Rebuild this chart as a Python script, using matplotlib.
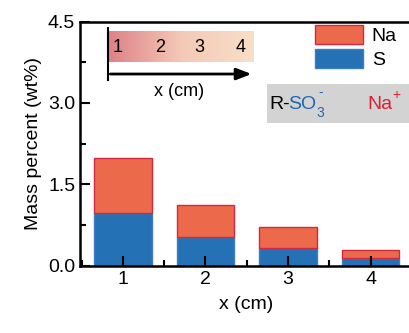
"""
Masa de Na y S por posicion x (barras apiladas) con inserto de gradiente.
"""

import matplotlib
matplotlib.use("Agg")
import matplotlib.pyplot as plt
import numpy as np
from matplotlib.patches import Rectangle, Patch
from matplotlib.ticker import MultipleLocator

plt.rcParams["font.family"] = ["Liberation Sans", "DejaVu Sans"]

positions = [1, 2, 3, 4]
s_values = [0.98, 0.53, 0.33, 0.14]
na_values = [1.00, 0.59, 0.38, 0.15]
inset_labels = ["1", "2", "3", "4"]

NA_FACE = "#EC6A4B"
NA_EDGE = "#D3283F"
S_FACE = "#2471B5"
S_EDGE = "#3E7EC0"
SO3_COLOR = "#2167B0"
NA_ION_COLOR = "#E0202F"

fig = plt.figure(figsize=(4.09, 3.33), dpi=100)
ax = fig.add_axes([0.1956, 0.202, 0.8114, 0.7334])
ax.set_axisbelow(False)

ax.bar(positions, s_values, width=0.7, color=S_FACE, edgecolor=S_EDGE, linewidth=1.0, zorder=1)
ax.bar(positions, na_values, width=0.7, bottom=s_values, color=NA_FACE, edgecolor=NA_EDGE,
       linewidth=1.0, zorder=1)

ax.set_xlim(0.48, 4.5)
ax.set_ylim(0, 4.5)
ax.set_xticks(positions)
ax.set_yticks([0, 1.5, 3.0, 4.5])
ax.set_yticklabels(["0.0", "1.5", "3.0", "4.5"])
ax.xaxis.set_minor_locator(MultipleLocator(0.5))
ax.yaxis.set_minor_locator(MultipleLocator(0.75))
ax.tick_params(which="both", direction="in", top=False, right=False, labelsize=14, width=1.5)
ax.tick_params(which="major", length=7)
ax.tick_params(which="minor", length=4)
for side in ["left", "bottom", "top"]:
    ax.spines[side].set_linewidth(1.8)
ax.spines["right"].set_visible(False)

ax.set_xlabel("x (cm)", fontsize=14, labelpad=6)
ax.set_ylabel("Mass percent (wt%)", fontsize=14, labelpad=4)

# leyenda
handles = [Patch(facecolor=NA_FACE, edgecolor=NA_EDGE, label="Na"),
           Patch(facecolor=S_FACE, edgecolor=S_EDGE, label="S")]
ax.legend(handles=handles, loc="upper left", bbox_to_anchor=(0.708, 0.985), frameon=False,
          fontsize=14, handlelength=2.47, handleheight=1.1, handletextpad=0.45,
          labelspacing=0.2, borderpad=0, borderaxespad=0)

# inserto con gradiente
grad = np.linspace(0, 1, 256).reshape(1, -1)
cmap = matplotlib.colors.LinearSegmentedColormap.from_list("g", ["#DE8287", "#F4C9B6", "#F9DFC8"])
ax.imshow(grad, cmap=cmap, aspect="auto", extent=(0.087, 0.521, 0.835, 0.958),
          transform=ax.transAxes, zorder=3)
ax.set_xlim(0.48, 4.5)
ax.set_ylim(0, 4.5)
for lab, xp in zip(inset_labels, [0.114, 0.241, 0.361, 0.485]):
    ax.text(xp, 0.893, lab, transform=ax.transAxes, ha="center", va="center", fontsize=13, zorder=4)
ax.plot([0.084, 0.084], [0.76, 0.975], transform=ax.transAxes, color="black", lw=1.5,
        clip_on=False, zorder=4)
ax.annotate("", xy=(0.525, 0.785), xytext=(0.083, 0.785), xycoords="axes fraction",
            arrowprops=dict(arrowstyle="-|>,head_length=0.9,head_width=0.35", color="black", lw=2),
            zorder=4)
ax.text(0.30, 0.715, "x (cm)", transform=ax.transAxes, ha="center", va="center", fontsize=13)

# caja gris R-SO3- / Na+
ax.add_patch(Rectangle((0.563, 0.584), 0.45, 0.16, transform=ax.transAxes, facecolor="#D3D3D3",
                       edgecolor="none", clip_on=False, zorder=3))
ax.text(0.570, 0.662, "R-", transform=ax.transAxes, ha="left", va="center", fontsize=14, zorder=4)
ax.text(0.627, 0.662, "SO", transform=ax.transAxes, ha="left", va="center", fontsize=14,
        color=SO3_COLOR, zorder=4)
ax.text(0.713, 0.625, "3", transform=ax.transAxes, ha="left", va="center", fontsize=10,
        color=SO3_COLOR, zorder=4)
ax.text(0.718, 0.712, "-", transform=ax.transAxes, ha="left", va="center", fontsize=10,
        color=SO3_COLOR, zorder=4)
ax.text(0.866, 0.662, "Na", transform=ax.transAxes, ha="left", va="center", fontsize=14,
        color=NA_ION_COLOR, zorder=4)
ax.text(0.940, 0.700, "+", transform=ax.transAxes, ha="left", va="center", fontsize=10,
        color=NA_ION_COLOR, zorder=4)

fig.savefig("out.png", dpi=100)
